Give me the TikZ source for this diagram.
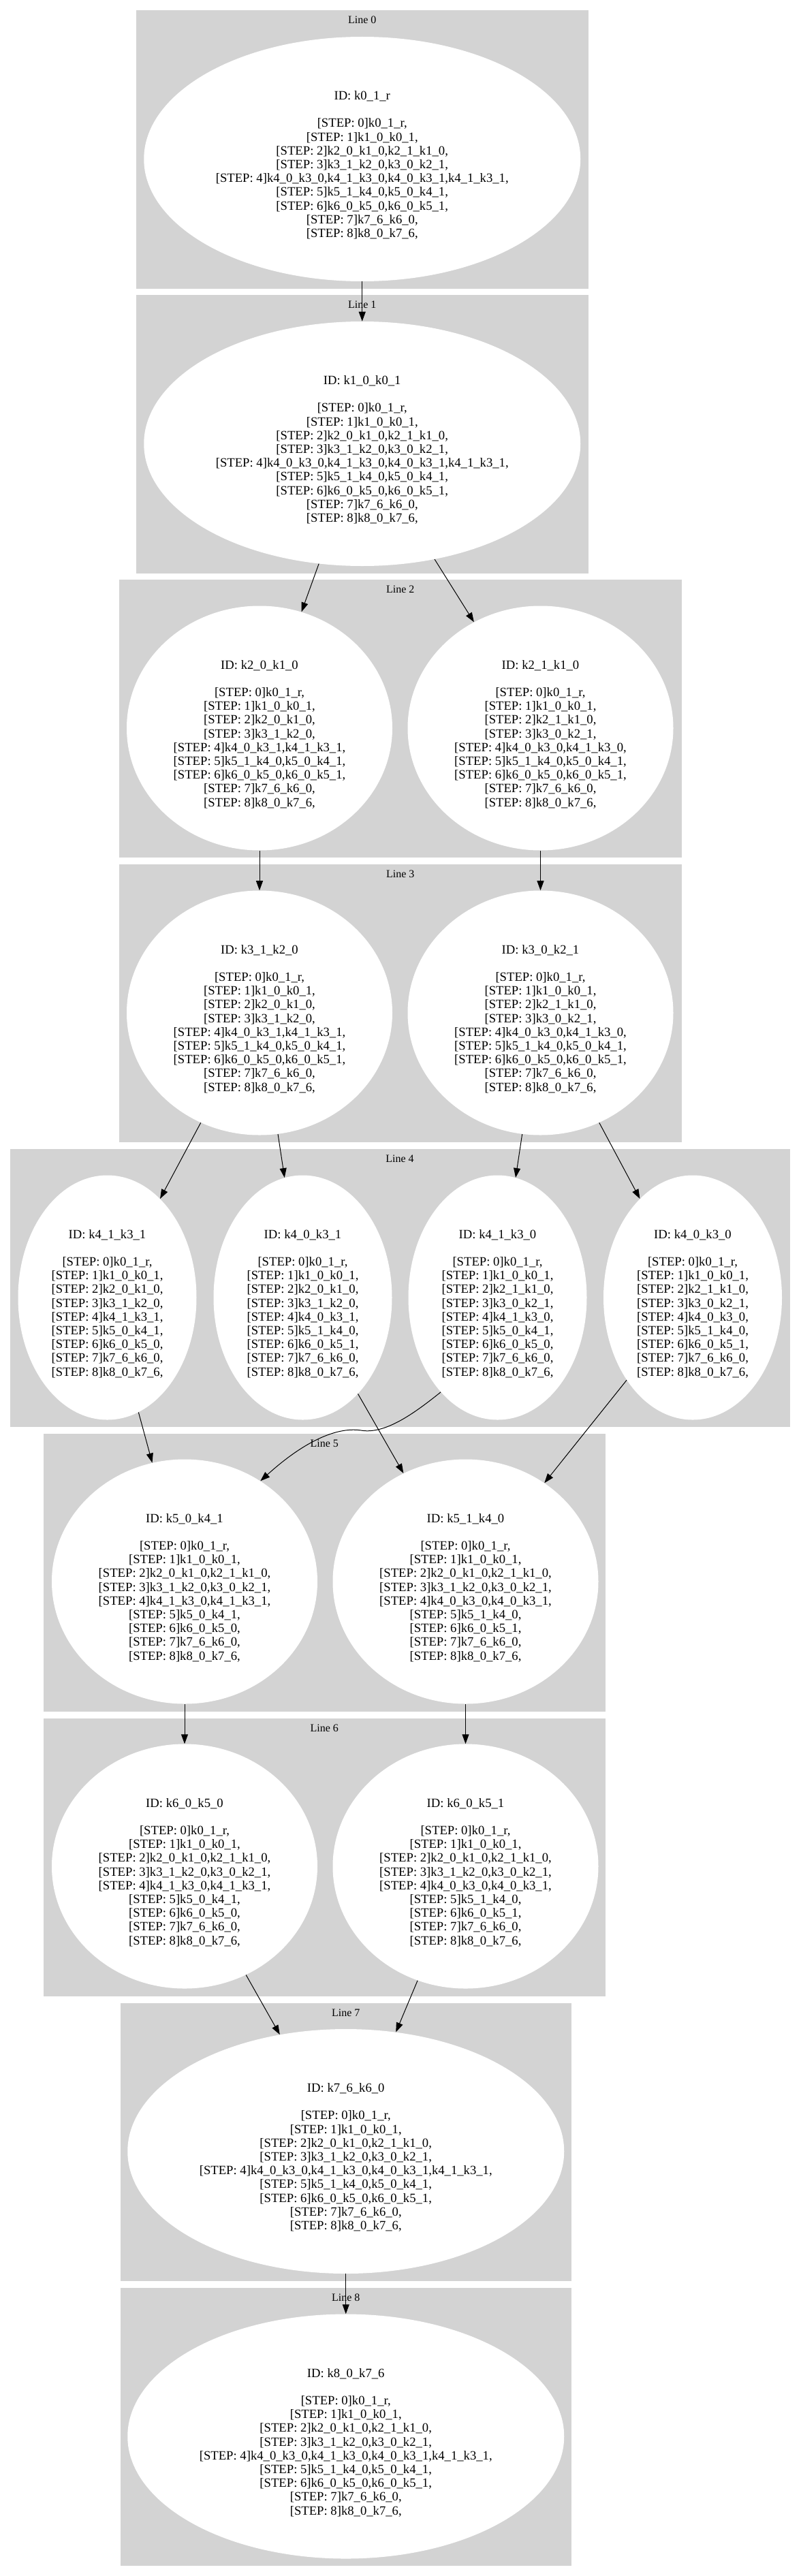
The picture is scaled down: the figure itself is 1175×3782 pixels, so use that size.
\documentclass[tikz,border=0pt]{standalone}
\usepackage{fontspec}
\setmainfont{Liberation Serif}
\usetikzlibrary{arrows.meta,shapes.geometric}
\definecolor{clustergray}{RGB}{211,211,211}
\newcommand{\idline}[1]{\rule{0pt}{8pt}\\ID: #1\\[15.15pt]}
\newcommand{\stp}[1]{[STEP: #1]}

\begin{document}
\begin{tikzpicture}[x=0.75pt, y=-0.75pt,
  every node/.style={font=\fontsize{14}{15.15}\selectfont, align=center},
  stepnode/.style={ellipse, fill=white, inner sep=0pt, minimum height=269.25pt},
  bigstate/.style={stepnode, minimum width=480.75pt},
  midstate/.style={stepnode, minimum width=292.5pt},
  smallstate/.style={stepnode, minimum width=196.5pt},
  linelabel/.style={font=\fontsize{12}{14}\selectfont},
  link/.style={-{Triangle[length=10.5pt,width=7.5pt]}, line width=0.75pt}]
\useasboundingbox (0,0) rectangle (1175,3782);

% clusters
\fill[clustergray] (200,15) rectangle (863.5,424);
\fill[clustergray] (200,433) rectangle (863.5,842);
\fill[clustergray] (175,851) rectangle (1000.5,1259);
\fill[clustergray] (175,1269) rectangle (1000.5,1677);
\fill[clustergray] (14.5,1687) rectangle (1159.5,2095);
\fill[clustergray] (64,2105) rectangle (888.5,2513);
\fill[clustergray] (64,2523) rectangle (888.5,2931);
\fill[clustergray] (176.5,2941) rectangle (839,3349);
\fill[clustergray] (176.5,3359) rectangle (839,3767);

\node[linelabel] (L0) at (531.75,29) {Line 0};
\node[linelabel] (L1) at (531.75,447) {Line 1};
\node[linelabel] (L2) at (587.75,865) {Line 2};
\node[linelabel] (L3) at (587.75,1283) {Line 3};
\node[linelabel] (L4) at (587,1701) {Line 4};
\node[linelabel] (L5) at (476.25,2119) {Line 5};
\node[linelabel] (L6) at (476.25,2537) {Line 6};
\node[linelabel] (L7) at (507.75,2955) {Line 7};
\node[linelabel] (L8) at (507.75,3373) {Line 8};

% line 0 and 1
\node[bigstate] (k01r) at (531.75,233.5) {\idline{k0\_1\_r}
  \stp{0}k0\_1\_r,\\
  \stp{1}k1\_0\_k0\_1,\\
  \stp{2}k2\_0\_k1\_0,k2\_1\_k1\_0,\\
  \stp{3}k3\_1\_k2\_0,k3\_0\_k2\_1,\\
  \stp{4}k4\_0\_k3\_0,k4\_1\_k3\_0,k4\_0\_k3\_1,k4\_1\_k3\_1,\\
  \stp{5}k5\_1\_k4\_0,k5\_0\_k4\_1,\\
  \stp{6}k6\_0\_k5\_0,k6\_0\_k5\_1,\\
  \stp{7}k7\_6\_k6\_0,\\
  \stp{8}k8\_0\_k7\_6,};
\node[bigstate] (k10k01) at (531.75,651.5) {\idline{k1\_0\_k0\_1}
  \stp{0}k0\_1\_r,\\
  \stp{1}k1\_0\_k0\_1,\\
  \stp{2}k2\_0\_k1\_0,k2\_1\_k1\_0,\\
  \stp{3}k3\_1\_k2\_0,k3\_0\_k2\_1,\\
  \stp{4}k4\_0\_k3\_0,k4\_1\_k3\_0,k4\_0\_k3\_1,k4\_1\_k3\_1,\\
  \stp{5}k5\_1\_k4\_0,k5\_0\_k4\_1,\\
  \stp{6}k6\_0\_k5\_0,k6\_0\_k5\_1,\\
  \stp{7}k7\_6\_k6\_0,\\
  \stp{8}k8\_0\_k7\_6,};

% line 2 and 3
\node[midstate] (k20k10) at (381,1069) {\idline{k2\_0\_k1\_0}
  \stp{0}k0\_1\_r,\\
  \stp{1}k1\_0\_k0\_1,\\
  \stp{2}k2\_0\_k1\_0,\\
  \stp{3}k3\_1\_k2\_0,\\
  \stp{4}k4\_0\_k3\_1,k4\_1\_k3\_1,\\
  \stp{5}k5\_1\_k4\_0,k5\_0\_k4\_1,\\
  \stp{6}k6\_0\_k5\_0,k6\_0\_k5\_1,\\
  \stp{7}k7\_6\_k6\_0,\\
  \stp{8}k8\_0\_k7\_6,};
\node[midstate] (k21k10) at (793.5,1069) {\idline{k2\_1\_k1\_0}
  \stp{0}k0\_1\_r,\\
  \stp{1}k1\_0\_k0\_1,\\
  \stp{2}k2\_1\_k1\_0,\\
  \stp{3}k3\_0\_k2\_1,\\
  \stp{4}k4\_0\_k3\_0,k4\_1\_k3\_0,\\
  \stp{5}k5\_1\_k4\_0,k5\_0\_k4\_1,\\
  \stp{6}k6\_0\_k5\_0,k6\_0\_k5\_1,\\
  \stp{7}k7\_6\_k6\_0,\\
  \stp{8}k8\_0\_k7\_6,};
\node[midstate] (k31k20) at (381,1487) {\idline{k3\_1\_k2\_0}
  \stp{0}k0\_1\_r,\\
  \stp{1}k1\_0\_k0\_1,\\
  \stp{2}k2\_0\_k1\_0,\\
  \stp{3}k3\_1\_k2\_0,\\
  \stp{4}k4\_0\_k3\_1,k4\_1\_k3\_1,\\
  \stp{5}k5\_1\_k4\_0,k5\_0\_k4\_1,\\
  \stp{6}k6\_0\_k5\_0,k6\_0\_k5\_1,\\
  \stp{7}k7\_6\_k6\_0,\\
  \stp{8}k8\_0\_k7\_6,};
\node[midstate] (k30k21) at (793.5,1487) {\idline{k3\_0\_k2\_1}
  \stp{0}k0\_1\_r,\\
  \stp{1}k1\_0\_k0\_1,\\
  \stp{2}k2\_1\_k1\_0,\\
  \stp{3}k3\_0\_k2\_1,\\
  \stp{4}k4\_0\_k3\_0,k4\_1\_k3\_0,\\
  \stp{5}k5\_1\_k4\_0,k5\_0\_k4\_1,\\
  \stp{6}k6\_0\_k5\_0,k6\_0\_k5\_1,\\
  \stp{7}k7\_6\_k6\_0,\\
  \stp{8}k8\_0\_k7\_6,};

% line 4
\node[smallstate] (k41k31) at (157.5,1905) {\idline{k4\_1\_k3\_1}
  \stp{0}k0\_1\_r,\\
  \stp{1}k1\_0\_k0\_1,\\
  \stp{2}k2\_0\_k1\_0,\\
  \stp{3}k3\_1\_k2\_0,\\
  \stp{4}k4\_1\_k3\_1,\\
  \stp{5}k5\_0\_k4\_1,\\
  \stp{6}k6\_0\_k5\_0,\\
  \stp{7}k7\_6\_k6\_0,\\
  \stp{8}k8\_0\_k7\_6,};
\node[smallstate] (k40k31) at (444.5,1905) {\idline{k4\_0\_k3\_1}
  \stp{0}k0\_1\_r,\\
  \stp{1}k1\_0\_k0\_1,\\
  \stp{2}k2\_0\_k1\_0,\\
  \stp{3}k3\_1\_k2\_0,\\
  \stp{4}k4\_0\_k3\_1,\\
  \stp{5}k5\_1\_k4\_0,\\
  \stp{6}k6\_0\_k5\_1,\\
  \stp{7}k7\_6\_k6\_0,\\
  \stp{8}k8\_0\_k7\_6,};
\node[smallstate] (k41k30) at (730.5,1905) {\idline{k4\_1\_k3\_0}
  \stp{0}k0\_1\_r,\\
  \stp{1}k1\_0\_k0\_1,\\
  \stp{2}k2\_1\_k1\_0,\\
  \stp{3}k3\_0\_k2\_1,\\
  \stp{4}k4\_1\_k3\_0,\\
  \stp{5}k5\_0\_k4\_1,\\
  \stp{6}k6\_0\_k5\_0,\\
  \stp{7}k7\_6\_k6\_0,\\
  \stp{8}k8\_0\_k7\_6,};
\node[smallstate] (k40k30) at (1017,1905) {\idline{k4\_0\_k3\_0}
  \stp{0}k0\_1\_r,\\
  \stp{1}k1\_0\_k0\_1,\\
  \stp{2}k2\_1\_k1\_0,\\
  \stp{3}k3\_0\_k2\_1,\\
  \stp{4}k4\_0\_k3\_0,\\
  \stp{5}k5\_1\_k4\_0,\\
  \stp{6}k6\_0\_k5\_1,\\
  \stp{7}k7\_6\_k6\_0,\\
  \stp{8}k8\_0\_k7\_6,};

% line 5 and 6
\node[midstate] (k50k41) at (271,2322) {\idline{k5\_0\_k4\_1}
  \stp{0}k0\_1\_r,\\
  \stp{1}k1\_0\_k0\_1,\\
  \stp{2}k2\_0\_k1\_0,k2\_1\_k1\_0,\\
  \stp{3}k3\_1\_k2\_0,k3\_0\_k2\_1,\\
  \stp{4}k4\_1\_k3\_0,k4\_1\_k3\_1,\\
  \stp{5}k5\_0\_k4\_1,\\
  \stp{6}k6\_0\_k5\_0,\\
  \stp{7}k7\_6\_k6\_0,\\
  \stp{8}k8\_0\_k7\_6,};
\node[midstate] (k51k40) at (683.5,2322) {\idline{k5\_1\_k4\_0}
  \stp{0}k0\_1\_r,\\
  \stp{1}k1\_0\_k0\_1,\\
  \stp{2}k2\_0\_k1\_0,k2\_1\_k1\_0,\\
  \stp{3}k3\_1\_k2\_0,k3\_0\_k2\_1,\\
  \stp{4}k4\_0\_k3\_0,k4\_0\_k3\_1,\\
  \stp{5}k5\_1\_k4\_0,\\
  \stp{6}k6\_0\_k5\_1,\\
  \stp{7}k7\_6\_k6\_0,\\
  \stp{8}k8\_0\_k7\_6,};
\node[midstate] (k60k50) at (271,2740) {\idline{k6\_0\_k5\_0}
  \stp{0}k0\_1\_r,\\
  \stp{1}k1\_0\_k0\_1,\\
  \stp{2}k2\_0\_k1\_0,k2\_1\_k1\_0,\\
  \stp{3}k3\_1\_k2\_0,k3\_0\_k2\_1,\\
  \stp{4}k4\_1\_k3\_0,k4\_1\_k3\_1,\\
  \stp{5}k5\_0\_k4\_1,\\
  \stp{6}k6\_0\_k5\_0,\\
  \stp{7}k7\_6\_k6\_0,\\
  \stp{8}k8\_0\_k7\_6,};
\node[midstate] (k60k51) at (683.5,2740) {\idline{k6\_0\_k5\_1}
  \stp{0}k0\_1\_r,\\
  \stp{1}k1\_0\_k0\_1,\\
  \stp{2}k2\_0\_k1\_0,k2\_1\_k1\_0,\\
  \stp{3}k3\_1\_k2\_0,k3\_0\_k2\_1,\\
  \stp{4}k4\_0\_k3\_0,k4\_0\_k3\_1,\\
  \stp{5}k5\_1\_k4\_0,\\
  \stp{6}k6\_0\_k5\_1,\\
  \stp{7}k7\_6\_k6\_0,\\
  \stp{8}k8\_0\_k7\_6,};

% line 7 and 8
\node[bigstate] (k76k60) at (507.75,3158.5) {\idline{k7\_6\_k6\_0}
  \stp{0}k0\_1\_r,\\
  \stp{1}k1\_0\_k0\_1,\\
  \stp{2}k2\_0\_k1\_0,k2\_1\_k1\_0,\\
  \stp{3}k3\_1\_k2\_0,k3\_0\_k2\_1,\\
  \stp{4}k4\_0\_k3\_0,k4\_1\_k3\_0,k4\_0\_k3\_1,k4\_1\_k3\_1,\\
  \stp{5}k5\_1\_k4\_0,k5\_0\_k4\_1,\\
  \stp{6}k6\_0\_k5\_0,k6\_0\_k5\_1,\\
  \stp{7}k7\_6\_k6\_0,\\
  \stp{8}k8\_0\_k7\_6,};
\node[bigstate] (k80k76) at (507.75,3577) {\idline{k8\_0\_k7\_6}
  \stp{0}k0\_1\_r,\\
  \stp{1}k1\_0\_k0\_1,\\
  \stp{2}k2\_0\_k1\_0,k2\_1\_k1\_0,\\
  \stp{3}k3\_1\_k2\_0,k3\_0\_k2\_1,\\
  \stp{4}k4\_0\_k3\_0,k4\_1\_k3\_0,k4\_0\_k3\_1,k4\_1\_k3\_1,\\
  \stp{5}k5\_1\_k4\_0,k5\_0\_k4\_1,\\
  \stp{6}k6\_0\_k5\_0,k6\_0\_k5\_1,\\
  \stp{7}k7\_6\_k6\_0,\\
  \stp{8}k8\_0\_k7\_6,};

\draw[link] (k01r) to (k10k01);
\draw[link] (k10k01) to (k20k10);
\draw[link] (k10k01) to (k21k10);
\draw[link] (k20k10) to (k31k20);
\draw[link] (k21k10) to (k30k21);
\draw[link] (k31k20) to (k41k31);
\draw[link] (k31k20) to (k40k31);
\draw[link] (k30k21) to (k41k30);
\draw[link] (k30k21) to (k40k30);
\draw[link] (k41k31) to (k50k41);
\draw[link] (k40k31) to (k51k40);
\draw[link] (k41k30.239) .. controls (607,2076) and (565,2106) .. (530,2100)
  .. controls (490,2094) and (440,2122) .. (k50k41.53);
\draw[link] (k40k30) to (k51k40);
\draw[link] (k50k41) to (k60k50);
\draw[link] (k51k40) to (k60k51);
\draw[link] (k60k50) to (k76k60);
\draw[link] (k60k51) to (k76k60);
\draw[link] (k76k60) to (k80k76);
\end{tikzpicture}
\end{document}
